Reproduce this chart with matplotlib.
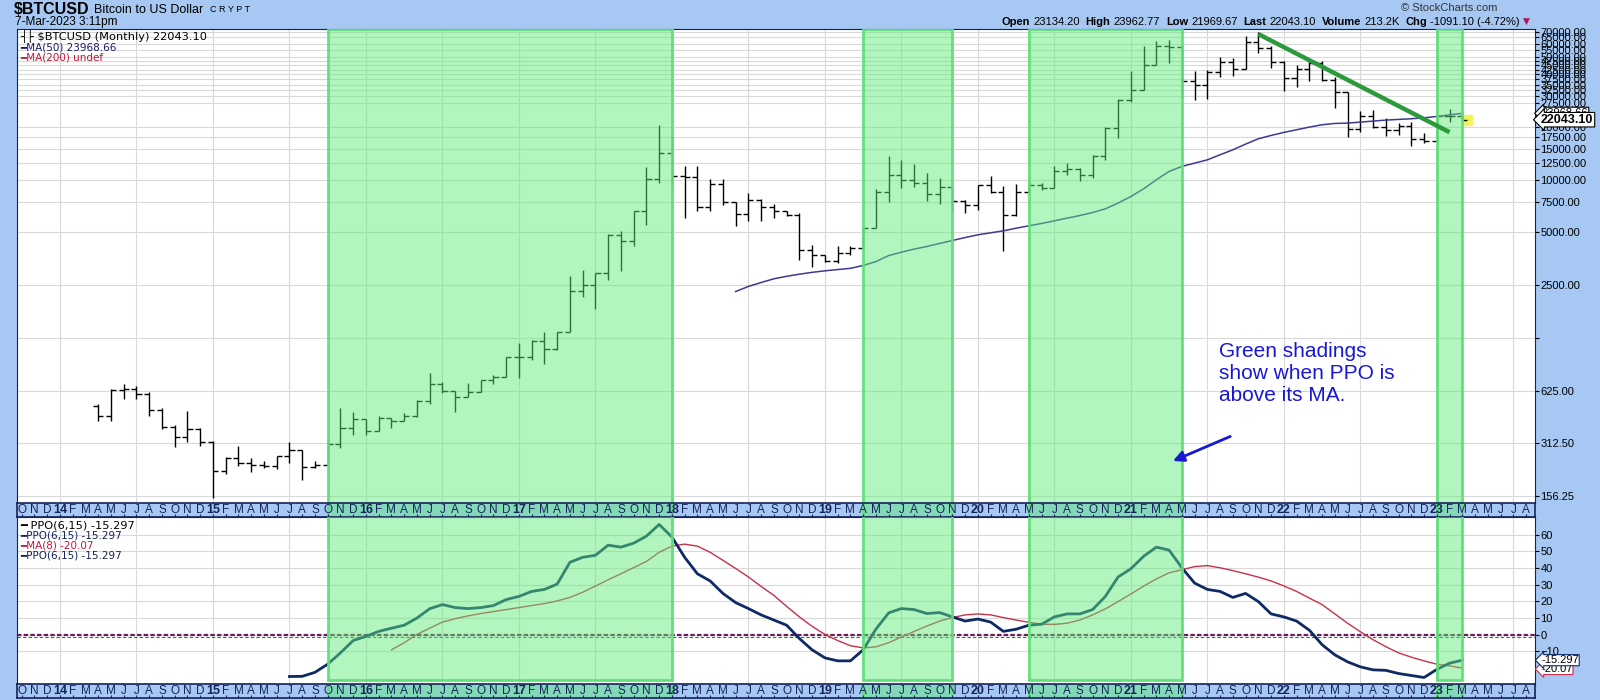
import matplotlib
matplotlib.use('Agg')
import matplotlib.pyplot as plt
from matplotlib.patches import Rectangle
from matplotlib.ticker import NullLocator
from matplotlib.transforms import blended_transform_factory
import numpy as np

plt.rcParams['font.family'] = ['Liberation Sans', 'DejaVu Sans']

BG = '#a6c8f2'
NAVY = '#14235a'

# month index: 0 = Jan 2014
bar_start = 3  # Apr 2014
opens = [508, 448, 630, 635, 598, 486, 388, 340, 376,
         319, 217, 256, 242, 234, 231, 264, 285, 229, 234, 311, 380,
         432, 365, 438, 417, 448, 545, 683, 625, 577, 611, 714, 746,
         971, 971, 1203, 1086, 1354, 2320, 2510, 2930, 4820, 4450, 6630, 10090,
         14250, 10550, 10400, 7030, 9440, 7450, 6360, 7690, 6950, 6650, 6300, 3950,
         3700, 3420, 3810, 4070, 5290, 8500, 10680, 10000, 9570, 8280, 9040, 7520,
         7200, 9360, 8500, 6310, 8570, 9360, 8960, 11160, 11500, 10680, 13600, 19760,
         28660, 32700, 45000, 57800, 57000, 36800, 34600, 41200, 47000, 43100, 61200, 56600,
         47000, 38100, 43100, 46400, 37300, 31700, 19560, 23000, 19900, 19300, 20400, 17100,
         16550, 23100, 23134.20]
highs = [522, 640, 683, 660, 612, 495, 400, 480, 380,
         320, 262, 301, 258, 247, 264, 316, 285, 247, 337, 494, 470,
         432, 448, 438, 468, 550, 786, 696, 625, 689, 714, 766, 971,
         1170, 1210, 1354, 1354, 2830, 3040, 2930, 4870, 5090, 6630, 11780, 20440,
         17780, 12040, 12040, 10090, 10100, 7450, 8390, 7750, 7270, 6650, 6450, 4250,
         3720, 4160, 4160, 5340, 8880, 13600, 13000, 12300, 10900, 10300, 9160, 7690,
         9360, 10450, 9160, 9400, 10000, 9570, 12000, 12450, 11660, 13900, 19900, 28900,
         41600, 57800, 62300, 63100, 58900, 41600, 42300, 50000, 49600, 66000, 69700, 57800,
         47800, 45400, 47600, 47400, 38900, 31900, 24800, 25200, 22500, 21100, 21400, 18400,
         23950, 25250, 23962.77]
lows = [420, 420, 558, 560, 448, 376, 296, 319, 302,
        153, 209, 231, 213, 225, 222, 242, 194, 225, 234, 295, 350,
        350, 365, 384, 417, 443, 523, 602, 473, 573, 611, 684, 746,
        737, 930, 890, 1060, 1354, 2130, 1820, 2680, 3020, 4170, 5510, 9570,
        9350, 6070, 6640, 6640, 7200, 5460, 5830, 5830, 6040, 6250, 3490, 3160,
        3370, 3330, 3740, 4050, 5290, 7450, 8960, 9040, 7590, 7260, 6530, 6450,
        6740, 8380, 3900, 6200, 8570, 8800, 8960, 10680, 9800, 10200, 13000, 17300,
        28000, 32700, 45000, 46500, 29300, 28600, 29000, 38900, 39000, 43100, 53000, 43500,
        32300, 34100, 36800, 36800, 25700, 17460, 18700, 19800, 17900, 18000, 15600, 16300,
        16500, 21400, 21969.67]
closes = [448, 630, 635, 598, 486, 388, 340, 376, 319,
          217, 256, 242, 234, 231, 264, 285, 229, 234, 311, 380, 432,
          365, 438, 417, 448, 545, 683, 625, 577, 611, 714, 746, 971,
          971, 1203, 1086, 1354, 2320, 2510, 2930, 4820, 4450, 6630, 10090, 14250,
          10550, 10400, 7030, 9440, 7450, 6360, 7690, 6950, 6650, 6300, 3950, 3700,
          3420, 3810, 4070, 5290, 8500, 10680, 10000, 9570, 8280, 9040, 7520, 7200,
          9360, 8500, 6310, 8570, 9360, 8960, 11160, 11500, 10680, 13600, 19760, 28660,
          32700, 45000, 57800, 57000, 36800, 34600, 41200, 47000, 43100, 61200, 56600, 47000,
          38100, 43100, 46400, 37300, 31700, 19560, 23000, 19900, 19300, 20400, 17100, 16550,
          23100, 23130, 22043.10]

ma50_start = 53
ma50 = [2300, 2460, 2590, 2720, 2810, 2890, 2960, 3020, 3070, 3120, 3240, 3410,
        3690, 3860, 4020, 4160, 4330, 4500, 4680, 4850, 4980, 5110, 5290, 5460,
        5630, 5830, 6040, 6250, 6500, 6830, 7360, 8030, 8880, 10000, 11160, 11920,
        12450, 13000, 13900, 14840, 15990, 17150, 17920, 18650, 19310, 20000, 20620, 20990,
        21070, 21360, 21640, 21930, 22130, 22320, 22610, 23000, 23500, 23968.66]

ppo_start = 18
ppo = [-25.1, -25.0, -22.6, -17.7, -10.9, -3.5, -1.0, 2.0, 3.9, 5.7, 10.0, 15.6,
       18.1, 16.3, 15.7, 16.3, 17.5, 21.1, 23.0, 26.0, 27.2, 30.4, 43.5, 46.5,
       47.7, 53.8, 52.6, 55.0, 59.2, 66.2, 58.7, 46.5, 36.6, 32.3, 24.8, 19.3,
       15.7, 11.9, 8.8, 5.7, -2.3, -9.1, -13.9, -15.7, -15.7, -9.1, 3.3, 13.1,
       15.7, 15.1, 12.7, 13.3, 10.7, 8.2, 9.4, 7.6, 2.0, 3.3, 5.7, 6.3,
       10.7, 12.5, 12.5, 15.1, 23.0, 34.7, 39.6, 47.1, 52.6, 50.8, 40.2, 31.0,
       27.2, 26.0, 22.4, 24.8, 19.9, 12.5, 10.7, 8.2, 2.7, -6.0, -12.1, -16.3,
       -19.3, -21.1, -21.4, -23.3, -24.5, -25.7, -20.8, -17.1, -15.297]

ppo_ma_start = 26
ppo_ma8 = [-9.1, -4.8, 0.2, 3.9, 7.6, 9.6, 11.3, 12.7, 13.9, 15.1, 16.3, 17.5,
           18.7, 20.3, 22.4, 25.5, 29.2, 33.0, 36.6, 40.3, 44.0, 49.5, 53.2, 54.4,
           53.2, 49.5, 44.7, 39.8, 34.7, 29.0, 23.6, 17.0, 10.7, 5.0, 0.2, -3.5,
           -6.6, -7.9, -7.3, -4.8, -1.4, 2.0, 5.2, 8.2, 10.3, 11.9, 12.5, 11.9,
           10.3, 8.8, 7.5, 6.3, 6.2, 6.9, 8.8, 11.9, 15.5, 19.9, 24.5, 29.2,
           33.5, 37.2, 39.0, 40.9, 41.5, 40.2, 38.5, 36.6, 34.6, 32.3, 29.3, 26.0,
           22.0, 18.1, 12.5, 6.9, 1.8, -3.0, -7.2, -10.9, -13.5, -15.7, -17.7, -18.7,
           -20.07]

shade_spans = [(21, 48), (63, 70), (76, 88), (108, 110)]
trend_x = [94, 109]
trend_y = [68000, 18700]

price_ticks = [156.25, 312.5, 625, 1250, 2500, 5000, 7500, 10000, 12500, 15000,
               17500, 20000, 27500, 30000, 32500, 35000, 37500, 40000, 42500,
               45000, 47500, 50000, 55000, 60000, 65000, 70000]
ppo_ticks = [-10, 0, 10, 20, 30, 40, 50, 60]
month_letters = 'JFMAMJJASOND'

SHADE_FC = (0.37, 0.92, 0.48, 0.48)
SHADE_EC = (0.36, 0.88, 0.47, 0.95)

fig = plt.figure(figsize=(16, 7), dpi=100, facecolor=BG)


def rect(top, bottom, left=17, right=1535):
    return [left / 1600, 1 - bottom / 700, (right - left) / 1600, (bottom - top) / 700]


ax = fig.add_axes(rect(29, 503))
band1 = fig.add_axes(rect(503, 517))
ax2 = fig.add_axes(rect(517, 684))
band2 = fig.add_axes(rect(684, 698))

XMIN, XMAX = -3.37, 115.7
grid_x = [m for m in range(-3, 116) if m % 6 == 0]

# ---- price panel
x = np.arange(bar_start, bar_start + len(opens))
ax.plot(110.4, 22043.10, marker='s', ms=7, color='#f2f25a', zorder=1.5, lw=0)
ax.vlines(x, lows, highs, color='black', lw=1, zorder=2)
ax.hlines(opens, x - 0.4, x, color='black', lw=1, zorder=2)
ax.hlines(closes, x, x + 0.4, color='black', lw=1, zorder=2)
ax.plot(np.arange(ma50_start, ma50_start + len(ma50)), ma50, color='#3a3a92', lw=1.1, zorder=2)
ax.plot(trend_x, trend_y, color='#2c9a3c', lw=3.2, solid_capstyle='butt', zorder=5)

for a, b in shade_spans:
    ax.add_patch(Rectangle((a, -0.05), b - a, 1.05, transform=ax.get_xaxis_transform(),
                           fc=SHADE_FC, ec=SHADE_EC, lw=2, zorder=3))

ax.set_yscale('log')
ax.set_ylim(142.5, 72670)
ax.set_xlim(XMIN, XMAX)
ax.yaxis.tick_right()
ax.yaxis.set_minor_locator(NullLocator())
ax.set_yticks(price_ticks)
ax.set_yticklabels(['' if v == 1250 else f'{v:.2f}' for v in price_ticks])
ax.set_xticks(grid_x)
ax.set_xticklabels([])
ax.tick_params(axis='x', length=0)
ax.tick_params(axis='y', length=3, width=0.8, pad=1, labelsize=8, colors='black')
ax.grid(color='#d9d9d9', lw=0.8, zorder=0)
ax.set_axisbelow(True)
for s in ax.spines.values():
    s.set_color(NAVY)

ax.text(90.9, 1186, 'Green shadings\nshow when PPO is\nabove its MA.', color='#1818d4',
        fontsize=15, va='top', ha='left', linespacing=1.2, zorder=6)
ax.annotate('', xy=(87.1, 244), xytext=(92.0, 347),
            arrowprops=dict(arrowstyle='-|>', color='#1818d4', lw=2, mutation_scale=16), zorder=6)

rtrans = blended_transform_factory(ax.transAxes, ax.transData)
ax.text(1.004, 23968.66, '23968.66', transform=rtrans, fontsize=8, va='center', ha='left',
        bbox=dict(boxstyle='larrow,pad=0.1', fc='white', ec='black', lw=0.8), zorder=7, clip_on=False)
ax.text(1.004, 22043.10, '22043.10', transform=rtrans, fontsize=9, fontweight='bold', va='center',
        ha='left', bbox=dict(boxstyle='larrow,pad=0.1', fc='white', ec='black', lw=0.8), zorder=8,
        clip_on=False)

# ---- PPO panel
ax2.plot(np.arange(ppo_ma_start, ppo_ma_start + len(ppo_ma8)), ppo_ma8, color='#c8304a', lw=1, zorder=2)
ax2.plot(np.arange(ppo_start, ppo_start + len(ppo)), ppo, color='#0e2a64', lw=2, zorder=2)
ax2.axhline(0, color='#6a1c5c', lw=1.6, ls=(0, (2, 1)), zorder=1.5)
ax2.axhline(-1.4, color='#2a7a2a', lw=0.8, ls=(0, (3, 2)), zorder=1.5)
for a, b in shade_spans:
    ax2.add_patch(Rectangle((a, -27), b - a, 110, fc=SHADE_FC, ec=SHADE_EC, lw=2, zorder=3))
ax2.set_ylim(-29.6, 70.7)
ax2.set_xlim(XMIN, XMAX)
ax2.yaxis.tick_right()
ax2.set_yticks(ppo_ticks)
ax2.set_xticks(grid_x)
ax2.set_xticklabels([])
ax2.tick_params(axis='x', length=0)
ax2.tick_params(axis='y', length=3, width=0.8, pad=1, labelsize=8, colors='black')
ax2.grid(color='#d9d9d9', lw=0.8, zorder=0)
ax2.set_axisbelow(True)
for s in ax2.spines.values():
    s.set_color(NAVY)

rtrans2 = blended_transform_factory(ax2.transAxes, ax2.transData)
ax2.text(1.004, -15.3, '-15.297', transform=rtrans2, fontsize=8, va='center', ha='left',
         bbox=dict(boxstyle='larrow,pad=0.05', fc='white', ec='#0e2a64', lw=0.8), zorder=8, clip_on=False)
ax2.text(1.004, -20.6, '-20.07', transform=rtrans2, fontsize=8, va='center', ha='left',
         bbox=dict(boxstyle='larrow,pad=0.05', fc='white', ec='#c8304a', lw=0.8), zorder=7, clip_on=False)

# ---- month bands
for band in (band1, band2):
    band.set_facecolor(BG)
    band.set_xlim(XMIN, XMAX)
    band.set_ylim(0, 1)
    band.set_xticks([])
    band.set_yticks([])
    for s in band.spines.values():
        s.set_color(NAVY)
        s.set_linewidth(1.2)
    for a, b in shade_spans:
        band.add_patch(Rectangle((a, 0), b - a, 1, fc=SHADE_FC, ec='none', zorder=1))
        band.vlines([a, b], 0, 1, color=SHADE_EC, lw=2, zorder=1)
    months = np.arange(-3, 116)
    band.vlines(months, 0, 0.18, color=NAVY, lw=0.8, zorder=2)
    for m in months:
        if m % 12 == 0:
            band.text(m, 0.5, str(14 + m // 12), ha='center', va='center', fontsize=9,
                      fontweight='bold', color=NAVY, zorder=3)
        else:
            band.text(m, 0.5, month_letters[m % 12], ha='center', va='center', fontsize=8.5,
                      color=NAVY, zorder=3)


# ---- header and legends
def ftext(px, py, s, **kw):
    return fig.text(px / 1600, 1 - py / 700, s, va='center', **kw)


fig.canvas.draw()
renderer = fig.canvas.get_renderer()

t = ftext(14, 9, '$BTCUSD', fontsize=11.5, fontweight='bold', color='black')
px = 14 + t.get_window_extent(renderer).width + 4
t = ftext(px, 10, 'Bitcoin to US Dollar', fontsize=9, color='black')
px += t.get_window_extent(renderer).width + 7
ftext(px, 10, 'C R Y P T', fontsize=6.5, color='black')
ftext(15, 22, '7-Mar-2023 3:11pm', fontsize=8.5, color='black')
ftext(1497, 8, '© StockCharts.com', fontsize=8, color='#333333', ha='right')

pieces = [('Open', True), ('23134.20', False), ('High', True), ('23962.77', False),
          ('Low', True), ('21969.67', False), ('Last', True), ('22043.10', False),
          ('Volume', True), ('213.2K', False), ('Chg', True), ('-1091.10 (-4.72%)', False)]
texts = []
for s, bold in pieces:
    t = ftext(0, 22, s, fontsize=8, fontweight='bold' if bold else 'normal', color='black')
    texts.append((t, t.get_window_extent(renderer).width, bold))
total = sum(w + (3 if b else 6) for _, w, b in texts) - 6
px = 1520 - total
for t, w, bold in texts:
    t.set_x(px / 1600)
    px += w + (3 if bold else 6)
ftext(1523, 21, '▼', fontsize=6.5, color='#b0145a', family=['DejaVu Sans'])

ftext(20, 36, '┤├ $BTCUSD (Monthly) 22043.10', fontsize=8.2, color='black', family=['DejaVu Sans'])
ftext(20, 47, '━MA(50) 23968.66', fontsize=7.5, color='#1a1a70', family=['DejaVu Sans'])
ftext(20, 58, '━MA(200) undef', fontsize=7.5, color='#c0183c', family=['DejaVu Sans'])

ftext(20, 525, '━ PPO(6,15) -15.297', fontsize=8.2, color='black', family=['DejaVu Sans'])
ftext(20, 536, '━PPO(6,15) -15.297', fontsize=7.5, color='#14235a', family=['DejaVu Sans'])
ftext(20, 546, '━MA(8) -20.07', fontsize=7.5, color='#c0183c', family=['DejaVu Sans'])
ftext(20, 556, '━PPO(6,15) -15.297', fontsize=7.5, color='#14235a', family=['DejaVu Sans'])

fig.savefig('out.png', dpi=100, facecolor=BG)
